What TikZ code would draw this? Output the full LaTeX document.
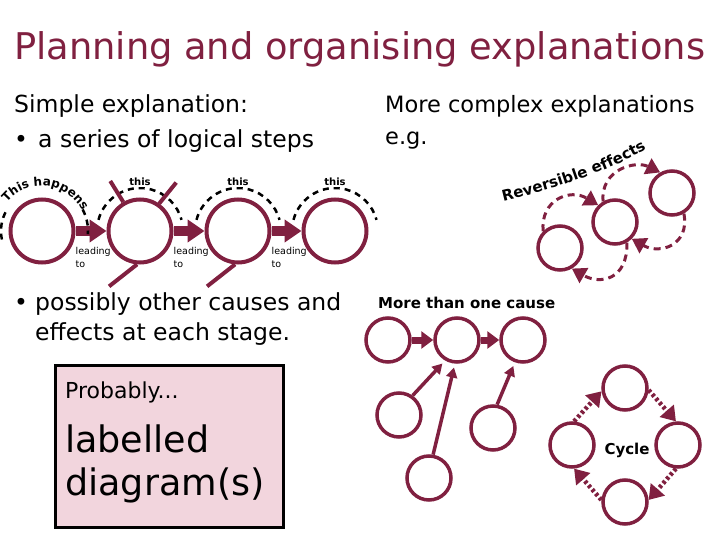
\documentclass[tikz,border=0pt]{standalone}
\usepackage{fontspec}
\setmainfont{DejaVu Sans}
\usetikzlibrary{arrows.meta,decorations.text,positioning}

\definecolor{wine}{RGB}{128,32,64}
\definecolor{blush}{RGB}{242,213,221}

\tikzset{
  stage/.style={circle,draw=wine,line width=4pt,minimum size=63pt,inner sep=0pt},
  bubble/.style={circle,draw=wine,line width=3.5pt,minimum size=44pt,inner sep=0pt},
  lead/.style={draw=wine,line width=9pt,-{Triangle[length=17pt,width=22pt]}},
  push/.style={draw=wine,line width=7pt,-{Triangle[length=12pt,width=17pt]}},
  feed/.style={draw=wine,line width=3.5pt,shorten >=4pt,-{Triangle[length=10pt,width=11pt]}},
  swap/.style={draw=wine,line width=3pt,dash pattern=on 7pt off 5pt,-{Triangle[length=14pt,width=17pt]}},
  spin/.style={draw=wine,line width=4.5pt,dash pattern=on 3pt off 2.5pt,-{Triangle[length=14pt,width=18pt]}},
  twig/.style={draw=wine,line width=4pt},
  hint/.style={black,line width=2.5pt,dash pattern=on 6pt off 5pt},
  tag/.style={font=\bfseries\fontsize{10}{10}\selectfont,fill=white,inner sep=1.5pt},
  leadtxt/.style={font=\fontsize{9.5}{13}\selectfont,align=left,inner sep=0pt},
  body/.style={font=\fontsize{23.5}{30}\selectfont,inner sep=0pt,anchor=base west},
  side/.style={body,font=\fontsize{22.5}{30}\selectfont},
  boldtxt/.style={font=\bfseries\fontsize{15}{15}\selectfont,inner sep=0pt},
  card/.style={draw=black,fill=blush,line width=3pt,minimum width=228pt,minimum height=162pt}
}

\begin{document}
\begin{tikzpicture}[x=1pt,y=1pt]
    \useasboundingbox (0,0) rectangle (720,-540);

    % Title and headings
    \node[anchor=base west,inner sep=0pt,text=wine,font=\fontsize{36.8}{40}\selectfont] (title) at (14,-60) {Planning and organising explanations};
    \node[body] (simple) at (14,-113) {Simple explanation:};
    \node[body] (dot1) at (14,-148) {•};
    \node[body] (steps) at (38,-148) {a series of logical steps};
    \node[side] (complex) at (385,-113) {More complex explanations};
    \node[side] (eg) at (385,-145) {e.g.};

    % Chain of steps
    \foreach \i/\x in {1/42,2/140,3/238,4/335}
        \node[stage] (s\i) at (\x,-231) {};
    \foreach \a/\b in {1/2,2/3,3/4} {
        \draw[lead] (s\a) -- (s\b);
        \node[leadtxt,anchor=north west] (l\a) at ([yshift=-16pt]s\a.east) {leading\\to};
    }

    % Dashed arcs over the steps
    \draw[hint] ([shift={(192:41pt)}]s1.center) arc[start angle=192,end angle=150,radius=41pt];
    \draw[hint] ([shift={(28:46pt)}]s1.center) arc[start angle=28,end angle=-4,radius=46pt];
    \path[decorate,decoration={text along path,text align=center,
        text={|\bfseries\fontsize{12}{12}\selectfont|This happens}}]
        ([shift={(148:45pt)}]s1.center) arc[start angle=148,end angle=20,radius=45pt];
    \foreach \i in {2,3,4} {
        \draw[hint] ([shift={(165:43pt)}]s\i.center) arc[start angle=165,end angle=15,radius=43pt];
        \node[tag,above=10pt of s\i] (t\i) {this};
    }

    % Other causes and effects
    \draw[twig] (s2.120) -- ++(-13pt,21pt);
    \draw[twig] (s2.55) -- ++(17pt,21pt);
    \draw[twig] (s2.-95) -- ++(-28pt,-22pt);
    \draw[twig] (s3.-95) -- ++(-28pt,-22pt);

    \node[body] (dot2) at (14,-310) {•};
    \node[body] (possibly) at (35,-310) {possibly other causes and};
    \node[body] (effects) at (35,-340) {effects at each stage.};

    % Probably box
    \node[card] (card) at (169,-446) {};
    \node[anchor=base west,inner sep=0pt,font=\fontsize{22}{26}\selectfont] (prob) at (65,-398) {Probably...};
    \node[anchor=base west,inner sep=0pt,font=\fontsize{36.5}{40}\selectfont] (lab) at (65,-452) {labelled};
    \node[anchor=base west,inner sep=0pt,font=\fontsize{36.5}{40}\selectfont] (diag) at (65,-495) {diagram(s)};

    % Reversible effects
    \node[bubble] (ra) at (560,-248) {};
    \node[bubble] (rb) at (615,-222) {};
    \node[bubble] (rc) at (672,-193) {};
    \draw[swap] (ra.135) .. controls (540,-200) and (570,-188) .. (rb.135);
    \draw[swap] (rb.120) .. controls (600,-170) and (635,-160) .. (rc.120);
    \draw[swap] (rc.-60) .. controls (690,-245) and (660,-255) .. (rb.-45);
    \draw[swap] (rb.-60) .. controls (628,-280) and (600,-285) .. (ra.-60);
    \path[decorate,decoration={text along path,text align=center,
        text={|\bfseries\fontsize{15}{15}\selectfont|Reversible effects}}]
        (497,-203) .. controls (545,-192) and (610,-172) .. (652,-146);

    % More than one cause
    \node[boldtxt,anchor=base west] (more) at (378,-308) {More than one cause};
    \node[bubble] (m1) at (388,-340) {};
    \node[bubble] (m2) at (457,-340) {};
    \node[bubble] (m3) at (523,-340) {};
    \node[bubble] (m4) at (399,-415) {};
    \node[bubble] (m5) at (429,-478) {};
    \node[bubble] (m6) at (493,-428) {};
    \draw[push] (m1) -- (m2);
    \draw[push] (m2) -- (m3);
    \draw[feed] (m4.55) -- (m2.240);
    \draw[feed] (m5.80) -- (m2.-95);
    \draw[feed] (m6.80) -- (m3.-110);

    % Cycle
    \node[bubble] (c1) at (625,-388) {};
    \node[bubble] (c2) at (678,-445) {};
    \node[bubble] (c3) at (625,-502) {};
    \node[bubble] (c4) at (572,-445) {};
    \node[boldtxt] (cycle) at (627,-450) {Cycle};
    \draw[spin] (c4.85) -- (c1.188);
    \draw[spin] (c1.-5) -- (c2.95);
    \draw[spin] (c2.-95) -- (c3.5);
    \draw[spin] (c3.175) -- (c4.-85);
\end{tikzpicture}
\end{document}
